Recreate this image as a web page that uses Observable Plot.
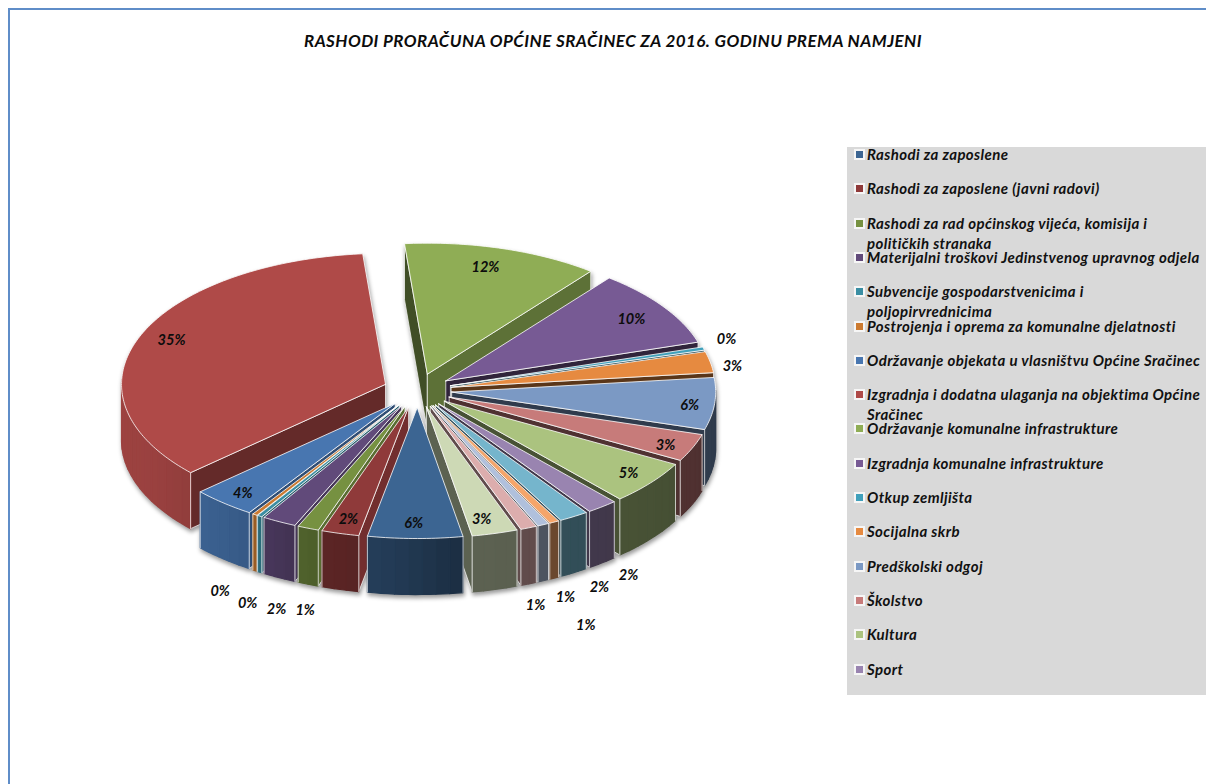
<!DOCTYPE html>
<html lang="hr">
<head>
<meta charset="utf-8">
<script src="https://cdn.jsdelivr.net/npm/d3@7"></script>
<script src="https://cdn.jsdelivr.net/npm/@observablehq/plot@0.6"></script>
<style>
  html, body { margin: 0; padding: 0; background: #fff; width: 1206px; height: 784px; overflow: hidden; }
  #frame { position: absolute; left: 8px; top: 8px; right: 0; bottom: 0; border-left: 2px solid #5f8dc8; border-top: 2px solid #5f8dc8; }
  #chart { position: absolute; left: 0; top: 0; }
  #chart svg { display: block; }
  #title { position: absolute; left: 0; width: 1226px; top: 31px; text-align: center;
    font: italic 700 17px/20px Lato, sans-serif; letter-spacing: .45px; color: #0c0c0c; white-space: nowrap; }
  #legend { position: absolute; left: 847px; top: 147px; width: 359px; height: 548px; background: #d9d9d9; }
  .item { position: absolute; left: 20px; width: 338px; font: italic 700 15px/20px Lato, sans-serif; letter-spacing: .4px; color: #111; white-space: nowrap; }
  .sw { position: absolute; left: -11px; top: 7px; width: 7px; height: 7px; outline: 2px solid rgba(255,255,255,.75); outline-offset: -0.5px; }
  svg g[aria-label="line"] { filter: drop-shadow(1px 3px 2px rgba(0,0,0,.4)); }
</style>
</head>
<body>
<div id="frame"></div>
<div id="chart"></div>
<div id="title"></div>
<div id="legend"></div>
<script>
const chartTitle = "RASHODI PRORAČUNA OPĆINE SRAČINEC ZA 2016. GODINU PREMA NAMJENI";

// Share of the budget per category (%), in drawing order.
const shares = [5.8, 2.3, 1.3, 2.1, 0.3, 0.3, 3.9, 35.4, 12, 9.6, 0.4, 2.6, 6.4, 3.4, 5.4, 1.9, 1.8, 0.6, 0.7, 1.0, 2.8];

const legendNames = [
  ["Rashodi za zaposlene"],
  ["Rashodi za zaposlene (javni radovi)"],
  ["Rashodi za rad općinskog vijeća, komisija i", "političkih stranaka"],
  ["Materijalni troškovi Jedinstvenog upravnog odjela"],
  ["Subvencije gospodarstvenicima i", "poljopirvrednicima"],
  ["Postrojenja i oprema za komunalne djelatnosti"],
  ["Održavanje objekata u vlasništvu Općine Sračinec"],
  ["Izgradnja i dodatna ulaganja na objektima Općine", "Sračinec"],
  ["Održavanje komunalne infrastrukture"],
  ["Izgradnja komunalne infrastrukture"],
  ["Otkup zemljišta"],
  ["Socijalna skrb"],
  ["Predškolski odgoj"],
  ["Školstvo"],
  ["Kultura"],
  ["Sport"]
];

const sliceColors = ["#3c6592", "#8f3a3a", "#769141", "#614a7a", "#3a8ea3", "#cc7a30", "#4876b0", "#af4a48", "#8fad55", "#775a94", "#40a0bb", "#e68a40", "#7b99c4", "#c77b7a", "#abc37f", "#9984b0", "#75b5cc", "#f5a56a", "#b0c0dc", "#dcadad", "#cdd9b5"];

// Placement of each percentage label around the hub: angle (deg, clockwise from top), radius (1 = rim).
const labelAngle = [180.4, 194.6, 194, 197.5, 201.4, 205.8, 220.1, 293.4, 15.4, 55.5, 70.9, 80.5, 95.5, 113.3, 127.7, 150.2, 155.1, 160.2, 160.2, 164.5, 165.6];
const labelRadius = [1.008, 1.009, 1.728, 1.75, 1.743, 1.70, 1.016, 1.007, 0.998, 0.992, 1.247, 1.217, 1.043, 1.031, 1.02, 1.623, 1.654, 1.904, 1.676, 1.70, 1.008];

// Pie layout
const W = 1206, H = 784;
const hub = [417, 390], labelHub = [415, 392], rx = 264, ry = 131, depth = 56, explode = 0.13, startDeg = 170;
const rad = Math.PI / 180;

const pieArcs = d3.pie().sort(null).startAngle(startDeg * rad).endAngle((startDeg + 360) * rad)(shares);
const rimShade = d3.scaleLinear([90, 170, 185, 200, 212, 222, 240, 270], [.38, .45, .58, .65, .75, .8, .88, .9]).clamp(true);
const faceShade = d3.scaleLinear([37, 73, 100, 170, 190, 200, 228, 354], [.66, .40, .38, .45, .8, .75, .57, .45]).clamp(true);
const shade = (c, k) => { const r = d3.rgb(c); return d3.rgb(r.r * k, r.g * k, r.b * k).formatHex(); };
const norm = t => ((t % 360) + 360) % 360;

const points = [];
let pid = 0;
function poly(coords, color, line, width) {
  const id = pid++;
  for (const [x, y] of coords) points.push({id, x, y, color, line, width});
}

const slices = pieArcs.map((p, i) => {
  const a0 = p.startAngle / rad, a1 = p.endAngle / rad, mid = (a0 + a1) / 2;
  const apex = [hub[0] + explode * rx * Math.sin(mid * rad), hub[1] - explode * ry * Math.cos(mid * rad)];
  return {i, a0, a1, mid, apex};
}).sort((a, b) => Math.cos(b.mid * rad) - Math.cos(a.mid * rad));

for (const s of slices) {
  const c = sliceColors[s.i];
  const rim = t => [s.apex[0] + rx * Math.sin(t * rad), s.apex[1] - ry * Math.cos(t * rad)];
  const down = ([x, y]) => [x, y + depth];
  const face = t => {
    const q = rim(t);
    poly([s.apex, q, down(q), down(s.apex), s.apex], shade(c, faceShade(norm(t))), "#fff", 0.7);
  };
  if (Math.sin(s.a0 * rad) < 0) face(s.a0);
  if (Math.sin(s.a1 * rad) > 0) face(s.a1);
  const n = Math.max(1, Math.ceil((s.a1 - s.a0) / 3));
  for (let k = 0; k < n; k++) {
    const t0 = s.a0 + (s.a1 - s.a0) * k / n, t1 = s.a0 + (s.a1 - s.a0) * (k + 1) / n;
    if (Math.cos(((t0 + t1) / 2) * rad) >= 0.02) continue;
    const f = shade(c, rimShade(norm((t0 + t1) / 2)));
    const q0 = rim(t0), q1 = rim(t1), qm = rim((t0 + t1) / 2);
    poly([q0, qm, q1, down(q1), down(qm), down(q0), q0], f, f, 1.2);
  }
  for (const t of [s.a0, s.a1]) {
    if (Math.cos(t * rad) < 0) { const q = rim(t); poly([q, down(q)], "none", "#fff", 0.7); }
  }
  const top = [s.apex];
  const m = Math.max(2, Math.ceil(s.a1 - s.a0));
  for (let k = 0; k <= m; k++) top.push(rim(s.a0 + (s.a1 - s.a0) * k / m));
  top.push(s.apex);
  poly(top, c, "#fff", 0.8);
}

const labels = shares.map((v, i) => ({
  text: Math.round(v) + "%",
  x: labelHub[0] + labelRadius[i] * rx * Math.sin(labelAngle[i] * rad),
  y: labelHub[1] - labelRadius[i] * 130 * Math.cos(labelAngle[i] * rad)
}));

const plot = Plot.plot({
  width: W, height: H,
  margin: 0,
  x: {domain: [0, W], range: [0, W], axis: null},
  y: {domain: [0, H], range: [0, H], axis: null},
  color: {type: "identity"},
  style: {background: "transparent"},
  marks: [
    Plot.line(points, {
      x: "x", y: "y", z: "id",
      fill: "color",
      stroke: "line",
      strokeWidth: "width",
      strokeLinejoin: "round"
    }),
    Plot.text(labels, {
      x: "x", y: "y", text: "text",
      fontFamily: "Lato, sans-serif", fontWeight: 700, fontStyle: "italic", fontSize: 14.5,
      fill: "#0c0c0c"
    })
  ]
});
document.getElementById("chart").appendChild(plot);
document.getElementById("title").textContent = chartTitle;

const legend = document.getElementById("legend");
legendNames.forEach((lines, i) => {
  const el = document.createElement("div");
  el.className = "item";
  el.style.top = (-3 + i * 34.3) + "px";
  const sw = document.createElement("span");
  sw.className = "sw";
  sw.style.background = sliceColors[i];
  el.appendChild(sw);
  lines.forEach((t, j) => {
    if (j) el.appendChild(document.createElement("br"));
    el.appendChild(document.createTextNode(t));
  });
  legend.appendChild(el);
});
</script>
</body>
</html>
